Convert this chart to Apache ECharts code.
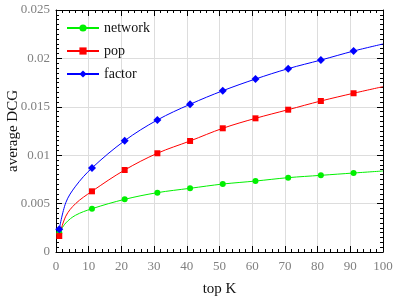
<!DOCTYPE html>
<html><head><meta charset="utf-8">
<script src="https://cdn.jsdelivr.net/npm/echarts@6/dist/echarts.min.js"></script>
<style>html,body{margin:0;padding:0;background:#fff}#c{width:409px;height:297px}</style>
</head><body><div id="c"></div>
<script>
// top K positions
const kValues = [1, 3, 6, 11, 21, 31, 41, 51, 61, 71, 81, 91, 100];
// points that carry a marker (others only shape the curve)
const markerK = [1, 11, 21, 31, 41, 51, 61, 71, 81, 91];
const networkValues = [0.0020, 0.0030, 0.0038, 0.00447, 0.00544, 0.00613, 0.00658, 0.00702, 0.00733, 0.00768, 0.00792, 0.00816, 0.00837];
const popValues     = [0.00165, 0.0037, 0.0050, 0.00627, 0.00847, 0.0102, 0.01147, 0.01278, 0.01381, 0.0147, 0.0156, 0.0164, 0.01708];
const factorValues  = [0.00234, 0.0051, 0.0068, 0.00868, 0.0115, 0.01364, 0.01526, 0.01666, 0.01787, 0.01894, 0.01983, 0.02076, 0.02149];
const seriesNames = ['network', 'pop', 'factor'];
const seriesColors = ['#00f000', '#ff0000', '#0000ff'];
const seriesSymbols = ['circle', 'rect', 'diamond'];
const seriesSizes = [6, 6, 8];

const FONT = 'Liberation Serif';
function build(vals) {
  return vals.map((v, j) => {
    const k = kValues[j];
    const d = { value: [k, v] };
    if (markerK.indexOf(k) < 0) d.symbol = 'none';
    return d;
  });
}
const allVals = [networkValues, popValues, factorValues];
const chart = echarts.init(document.getElementById('c'));
const axisCommon = {
  axisLine: { show: true, onZero: false, lineStyle: { color: '#000', width: 1 } },
  axisTick: { show: true, inside: true, length: 6, lineStyle: { color: '#000' } }
};
const xMinor = { show: true, splitNumber: 5, length: 3, lineStyle: { color: '#000' } };
const yMinor = { show: true, splitNumber: 10, length: 3, lineStyle: { color: '#000' } };
chart.setOption({
  animation: false,
  grid: { left: 56, right: 26, top: 10, bottom: 45, containLabel: false, outerBoundsMode: 'none' },
  legend: {
    orient: 'vertical', left: 61, top: 16, itemGap: 9, itemWidth: 32, itemHeight: 9,
    textStyle: { fontFamily: FONT, fontSize: 14, color: '#111' },
    data: seriesNames
  },
  xAxis: [
    Object.assign({
      type: 'value', min: 0, max: 100, interval: 10, position: 'bottom',
      name: 'top K', nameLocation: 'middle', nameGap: 30, nameMoveOverlap: false,
      nameTextStyle: { fontFamily: FONT, fontSize: 15, color: '#111' },
      axisLabel: { fontFamily: FONT, fontSize: 13, color: '#808080', margin: 8 },
      splitLine: { show: true, lineStyle: { color: '#dddddd', width: 1 } },
      minorTick: xMinor
    }, axisCommon),
    Object.assign({
      type: 'value', min: 0, max: 100, interval: 10, position: 'top',
      axisLabel: { show: false }, splitLine: { show: false },
      minorTick: xMinor
    }, axisCommon)
  ],
  yAxis: [
    Object.assign({
      type: 'value', min: 0, max: 0.025, interval: 0.005, position: 'left',
      name: 'average DCG', nameLocation: 'middle', nameGap: 35, nameMoveOverlap: false,
      nameTextStyle: { fontFamily: FONT, fontSize: 15, color: '#111' },
      axisLabel: { fontFamily: FONT, fontSize: 13, color: '#808080', margin: 6 },
      splitLine: { show: true, lineStyle: { color: '#dddddd', width: 1 } },
      minorTick: yMinor
    }, axisCommon),
    Object.assign({
      type: 'value', min: 0, max: 0.025, interval: 0.005, position: 'right',
      axisLabel: { show: false }, splitLine: { show: false },
      minorTick: yMinor
    }, axisCommon)
  ],
  series: seriesNames.map((n, i) => ({
    name: n, type: 'line', smooth: 0.35, xAxisIndex: 0, yAxisIndex: 0,
    data: build(allVals[i]),
    symbol: seriesSymbols[i], symbolSize: seriesSizes[i], showSymbol: true,
    color: seriesColors[i],
    lineStyle: { width: 1, color: seriesColors[i] },
    itemStyle: { color: seriesColors[i] }
  }))
});
</script></body></html>
